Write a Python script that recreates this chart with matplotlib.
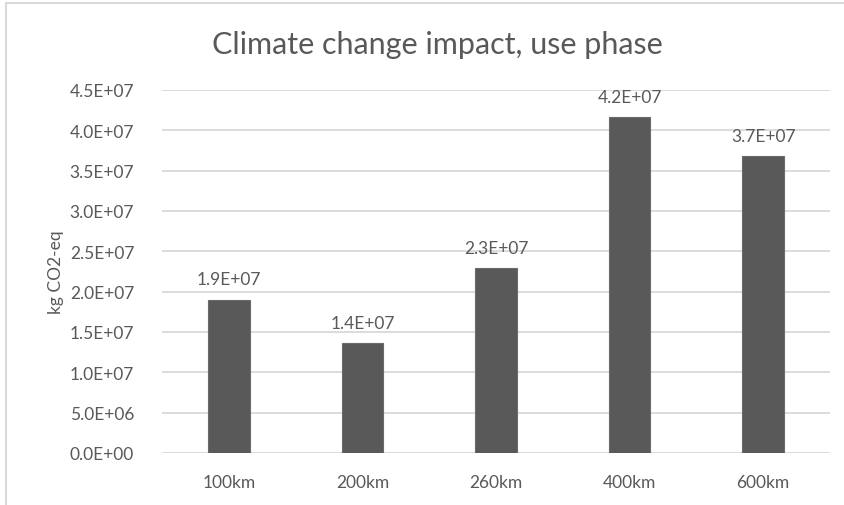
import numpy as np
import matplotlib
matplotlib.use("Agg")
import matplotlib.pyplot as plt
from matplotlib.lines import Line2D
from matplotlib.ticker import FuncFormatter

categories = ["100km", "200km", "260km", "400km", "600km"]
values = [1.9e7, 1.36e7, 2.29e7, 4.16e7, 3.68e7]
y_ticks = np.arange(0, 4.5e7 + 1, 5e6)

TEXT = "#595959"
GRID = "#D9D9D9"
BAR = "#595959"


def sci(v, pos=None):
    return "%.1E" % v


def main():
    plt.rcParams["font.family"] = ["Lato", "DejaVu Sans"]

    fig = plt.figure(figsize=(8.45, 5.06), dpi=100)
    ax = fig.add_axes([162 / 845, 52 / 506, 668 / 845, 363 / 506])

    x = np.arange(len(categories))
    ax.bar(x, values, width=0.31, color=BAR, edgecolor="#6b6b6b", linewidth=0.8, zorder=3)

    for xi, v in zip(x, values):
        ax.annotate(sci(v), (xi, v), xytext=(0, 9), textcoords="offset points",
                    ha="center", va="bottom", fontsize=12.5, color=TEXT)

    ax.set_xlim(-0.5, len(categories) - 0.5)
    ax.set_ylim(0, 4.5e7)
    ax.set_yticks(y_ticks)
    ax.yaxis.set_major_formatter(FuncFormatter(sci))
    ax.set_xticks(x)
    ax.set_xticklabels(categories)
    ax.tick_params(axis="both", length=0, colors=TEXT, labelsize=12.5)
    ax.tick_params(axis="y", pad=20)
    ax.tick_params(axis="x", pad=15)
    ax.grid(axis="y", color=GRID, linewidth=1.3, zorder=0)
    for s in ax.spines.values():
        s.set_visible(False)

    ax.set_ylabel("kg CO2-eq", fontsize=12.5, color=TEXT, labelpad=4)

    fig.text(437 / 845, 1 - 45 / 506, "Climate change impact, use phase",
             ha="center", va="center", fontsize=22, color=TEXT)

    # chart area border (top and left edges)
    fig.add_artist(Line2D([6 / 845, 6 / 845], [0, 1 - 4 / 506], color=GRID, linewidth=1.5))
    fig.add_artist(Line2D([6 / 845, 1], [1 - 4 / 506, 1 - 4 / 506], color=GRID, linewidth=1.5))

    fig.savefig("out.png", dpi=100, facecolor="white")


if __name__ == "__main__":
    main()
